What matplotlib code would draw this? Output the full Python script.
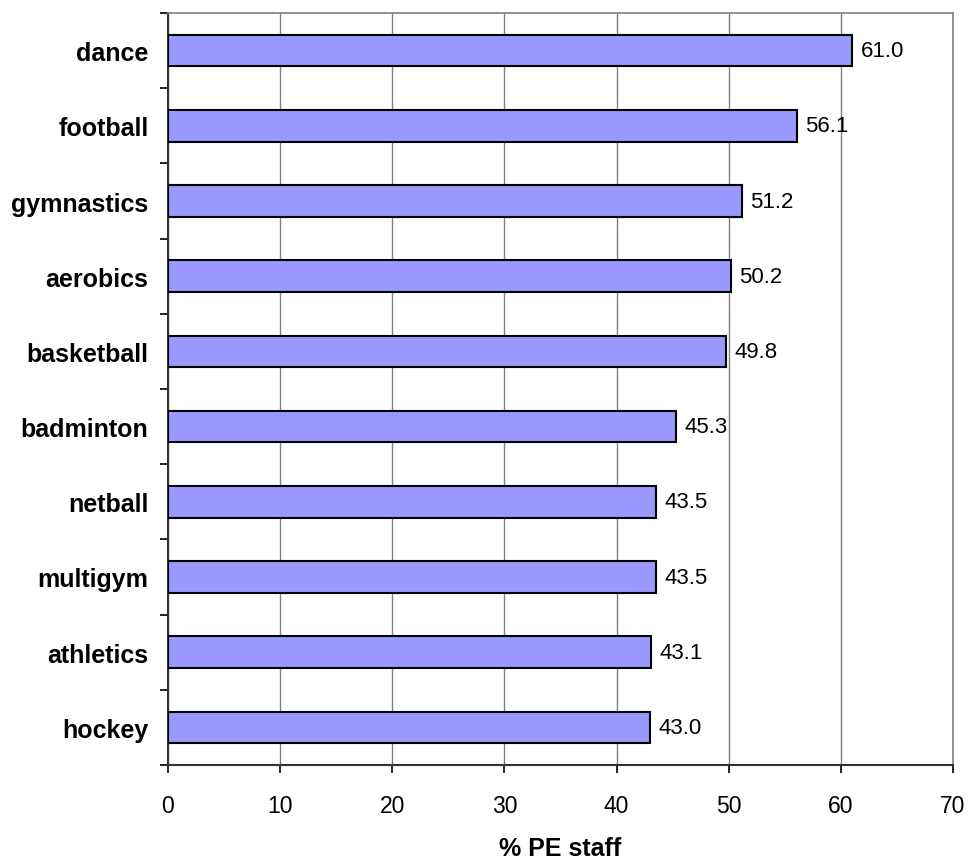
import matplotlib
matplotlib.use("Agg")
import matplotlib.pyplot as plt
import numpy as np

sports = ["dance", "football", "gymnastics", "aerobics", "basketball",
          "badminton", "netball", "multigym", "athletics", "hockey"]
pct = [61.0, 56.1, 51.2, 50.2, 49.8, 45.3, 43.5, 43.5, 43.1, 43.0]

plt.rcParams['font.family'] = ['Liberation Sans', 'DejaVu Sans']

fig = plt.figure(figsize=(9.68, 8.62), dpi=100)
ax = fig.add_axes([168/968, 96/862, 785/968, 752/862])

y = np.arange(len(sports))[::-1]
ax.barh(y, pct, height=0.42, color="#9999FF", edgecolor="black", linewidth=1.5, zorder=3)
for yi, v in zip(y, pct):
    ax.annotate(f"{v:.1f}", (v, yi), xytext=(6, 0), textcoords="offset points",
                va="center", ha="left", fontsize=16)

ax.set_xlim(0, 70)
ax.set_ylim(-0.5, len(sports) - 0.5)
ax.set_xticks(range(0, 71, 10))
ax.tick_params(axis="x", labelsize=16.5, direction="out", length=6, width=1.2, pad=15)
ax.set_yticks(y)
ax.set_yticklabels(sports, fontsize=18, fontweight="bold")
ax.set_yticks(np.arange(-0.5, len(sports), 1), minor=True)
ax.tick_params(axis="y", which="major", length=0, pad=14)
ax.tick_params(axis="y", which="minor", length=6, width=1.2, direction="out")
ax.xaxis.grid(True, color="#808080", linewidth=1, zorder=0)

for s in ["top", "right"]:
    ax.spines[s].set_color("#808080")
    ax.spines[s].set_linewidth(1.2)
for s in ["left", "bottom"]:
    ax.spines[s].set_color("#333333")
    ax.spines[s].set_linewidth(1.5)

fig.text((168 + 785 / 2) / 968, 6 / 862, "% PE staff", fontsize=18, fontweight="bold",
         ha="center", va="baseline")

fig.savefig("out.png", dpi=100)
